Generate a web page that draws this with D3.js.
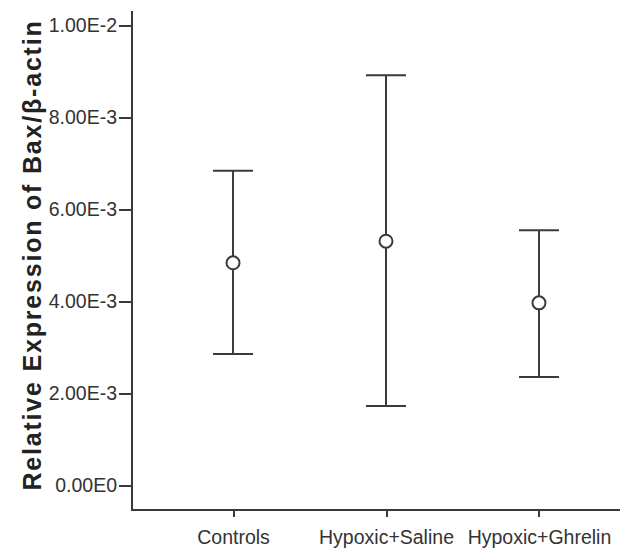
<!DOCTYPE html>
<html lang="en">
<head>
  <meta charset="UTF-8">
  <title>Relative Expression of Bax/β-actin</title>
  <script src="https://d3js.org/d3.v7.min.js"></script>
  <style>
    body {
      margin: 0;
      background: #fff;
      font-family: "Liberation Sans", Arial, sans-serif;
    }
    .axis path,
    .axis line {
      stroke: #3a3a3a;
      stroke-width: 2;
      shape-rendering: crispEdges;
    }
    .axis text {
      fill: #333;
      font-size: 19.5px;
      font-family: "Liberation Sans", Arial, sans-serif;
    }
  </style>
</head>
<body>
  <div id="chart"></div>

  <script>
    // Group means with the ends of the error bars
    const groups = ["Controls", "Hypoxic+Saline", "Hypoxic+Ghrelin"];
    const means = [0.00483, 0.00530, 0.00396];
    const upper = [0.00683, 0.00891, 0.00554];
    const lower = [0.00285, 0.00172, 0.00235];
    const yTicks = [0, 0.002, 0.004, 0.006, 0.008, 0.010];
    const yTickLabels = ["0.00E0", "2.00E-3", "4.00E-3", "6.00E-3", "8.00E-3", "1.00E-2"];

    const width = 620, height = 551;
    const axisX = 131, axisBottom = 510, axisTop = 10;

    const svg = d3.select("#chart")
      .append("svg")
      .attr("width", width)
      .attr("height", height);

    // y: 0 sits at 485, 1.00E-2 at 25
    const y = d3.scaleLinear()
      .domain([-25 / 46000, 0.01 + 15 / 46000])
      .range([axisBottom, axisTop]);

    const x = d3.scalePoint()
      .domain(groups)
      .range([axisX, 641])
      .padding(0.667);

    // Y axis
    svg.append("g")
      .attr("class", "axis")
      .attr("transform", `translate(${axisX},0)`)
      .call(d3.axisLeft(y)
        .tickValues(yTicks)
        .tickFormat((d, i) => yTickLabels[i])
        .tickSize(12)
        .tickSizeOuter(0)
        .tickPadding(2));

    // X axis
    const xAxis = svg.append("g")
      .attr("class", "axis")
      .attr("transform", `translate(0,${axisBottom})`)
      .call(d3.axisBottom(x)
        .tickSize(7)
        .tickSizeOuter(0)
        .tickPadding(13));

    xAxis.select(".domain").attr("d", `M${axisX},0H${width}`);

    // Y axis title
    svg.append("text")
      .attr("transform", `translate(41,255) rotate(-90)`)
      .attr("text-anchor", "middle")
      .style("font-size", "25px")
      .style("font-weight", "bold")
      .style("letter-spacing", "1.8px")
      .style("fill", "#222")
      .text("Relative Expression of Bax/β-actin");

    // Error bars
    const bars = svg.append("g")
      .attr("stroke", "#3a3a3a")
      .attr("stroke-width", 2)
      .attr("fill", "none");

    groups.forEach((g, i) => {
      const cx = x(g);
      bars.append("line")
        .attr("x1", cx).attr("x2", cx)
        .attr("y1", y(upper[i])).attr("y2", y(lower[i]));
      bars.append("line")
        .attr("x1", cx - 20).attr("x2", cx + 20)
        .attr("y1", y(upper[i])).attr("y2", y(upper[i]));
      bars.append("line")
        .attr("x1", cx - 20).attr("x2", cx + 20)
        .attr("y1", y(lower[i])).attr("y2", y(lower[i]));
      bars.append("circle")
        .attr("cx", cx)
        .attr("cy", y(means[i]))
        .attr("r", 6.5)
        .attr("fill", "#fff");
    });
  </script>
</body>
</html>
